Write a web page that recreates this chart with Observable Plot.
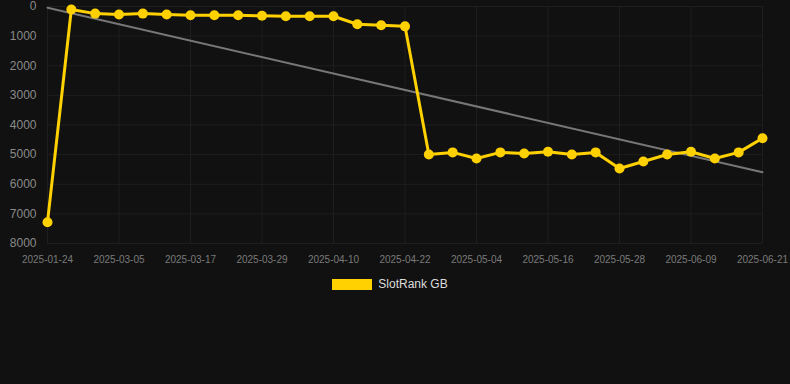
<!DOCTYPE html>
<html><head><meta charset="utf-8">
<script src="https://cdn.jsdelivr.net/npm/d3@7"></script>
<script src="https://cdn.jsdelivr.net/npm/@observablehq/plot@0.6"></script>
<style>
html,body{margin:0;padding:0;background:#111111;}
#chart{width:790px;height:384px;background:#111111;font-family:"Liberation Sans",Arial,sans-serif;}
.legend{display:flex;justify-content:center;align-items:center;margin-top:7px;font-size:12px;color:#dddddd;padding-right:10px;}
.legend .sw{width:40px;height:11px;background:#FFD100;margin-right:6px;}
</style></head><body><div id="chart"></div>
<script>
const dates = ["2025-01-24","2025-02-25","2025-03-01","2025-03-05","2025-03-09","2025-03-13","2025-03-17","2025-03-21","2025-03-25","2025-03-29","2025-04-02","2025-04-06","2025-04-10","2025-04-14","2025-04-18","2025-04-22","2025-04-26","2025-04-30","2025-05-04","2025-05-08","2025-05-12","2025-05-16","2025-05-20","2025-05-24","2025-05-28","2025-06-01","2025-06-05","2025-06-09","2025-06-13","2025-06-17","2025-06-21"];
const ranks = [7280,100,240,270,240,270,295,295,295,315,330,330,330,600,635,670,4995,4925,5130,4925,4960,4905,4995,4925,5470,5230,4995,4905,5130,4925,4450];
const seriesName = "SlotRank GB";
const yTicks = [0,1000,2000,3000,4000,5000,6000,7000,8000];
const xTickIdx = [0,3,6,9,12,15,18,21,24,27,30];

const data = dates.map((d,i)=>({i, date:d, rank:ranks[i]}));
const gold = "#FFD100";
const plot = Plot.plot({
  width:790, height:270, marginTop:6, marginBottom:27, marginLeft:47, marginRight:28,
  style:{background:"transparent", fontFamily:"'Liberation Sans', Arial, sans-serif"},
  x:{type:"linear", domain:[0,30], label:null},
  y:{domain:[0,8000], reverse:true, label:null},
  marks:[
    Plot.gridX(xTickIdx, {stroke:"#1e1e1e", strokeOpacity:1}),
    Plot.gridY(yTicks, {stroke:"#1e1e1e", strokeOpacity:1}),
    Plot.axisX(xTickIdx, {tickFormat:i=>dates[i], tickSize:0, tickPadding:12, fontSize:10, color:"#7a7a7a", label:null}),
    Plot.axisY(yTicks, {tickFormat:d=>String(d), tickSize:0, tickPadding:11, fontSize:12, color:"#8a8a8a", label:null}),
    Plot.linearRegressionY(data, {x:"i", y:"rank", stroke:"#777777", strokeWidth:2, ci:0}),
    Plot.line(data, {x:"i", y:"rank", stroke:gold, strokeWidth:3}),
    Plot.dot(data, {x:"i", y:"rank", r:5, fill:gold})
  ]
});
const root = document.getElementById("chart");
root.appendChild(plot);
const lg = document.createElement("div");
lg.className = "legend";
lg.innerHTML = '<span class="sw"></span><span></span>';
lg.lastChild.textContent = seriesName;
root.appendChild(lg);
</script></body></html>
